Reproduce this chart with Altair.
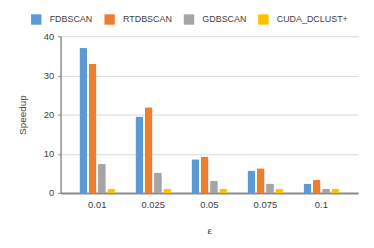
import altair as alt
import pandas as pd

eps = ["0.01", "0.025", "0.05", "0.075", "0.1"]
series = ["FDBSCAN", "RTDBSCAN", "GDBSCAN", "CUDA_DCLUST+"]
fdbscan = [37.0, 19.5, 8.6, 5.7, 2.4]
rtdbscan = [33.0, 21.9, 9.3, 6.3, 3.3]
gdbscan = [7.4, 5.2, 3.1, 2.4, 1.1]
cuda = [1.0, 1.0, 1.0, 1.0, 1.0]
colors = ["#5B9BD5", "#ED7D31", "#A5A5A5", "#FFC000"]

rows = []
for name, vals in zip(series, [fdbscan, rtdbscan, gdbscan, cuda]):
    for e, v in zip(eps, vals):
        rows.append({"eps": e, "series": name, "speedup": v})
df = pd.DataFrame(rows)

font = "Liberation Sans"
gray = "#404040"

chart = alt.Chart(df).mark_bar(cornerRadiusTopLeft=1.5, cornerRadiusTopRight=1.5).encode(
    x=alt.X("eps:N", sort=eps, title="ε",
            scale=alt.Scale(paddingInner=0, paddingOuter=0.155),
            axis=alt.Axis(labelAngle=0, ticks=False, domainColor="#8c8c8c", domainWidth=2,
                          labelFontSize=9.5, labelColor=gray, labelPadding=7,
                          titleFontSize=10, titleFontWeight="normal", titleColor=gray,
                          titlePadding=16, labelFont=font, titleFont=font)),
    xOffset=alt.XOffset("series:N", sort=series,
                        scale=alt.Scale(range=[10.25, 46.25], paddingInner=0.16, paddingOuter=0)),
    y=alt.Y("speedup:Q", title="Speedup",
            scale=alt.Scale(domain=[0, 40], nice=False),
            axis=alt.Axis(values=[0, 10, 20, 30, 40], tickSize=3, tickColor="#8c8c8c",
                          domainColor="#8c8c8c", domainWidth=1.5, gridColor="#d9d9d9",
                          labelFontSize=9.5, labelColor=gray, labelPadding=4,
                          titleFontSize=10, titleFontWeight="normal", titleColor=gray,
                          titlePadding=16, labelFont=font, titleFont=font)),
    color=alt.Color("series:N", sort=series,
                    scale=alt.Scale(domain=series, range=colors),
                    legend=alt.Legend(title=None, orient="none", direction="horizontal",
                                      legendX=-30, legendY=-22.5, symbolType="square",
                                      symbolSize=110, symbolStrokeWidth=0, labelFontSize=9,
                                      labelColor=gray, labelFont=font, labelOffset=8,
                                      labelLimit=200, columnPadding=11, padding=0)),
).properties(
    width=300, height=158,
    autosize=alt.AutoSizeParams(type="none"),
    padding={"left": 53, "top": 27.5, "right": 8, "bottom": 50},
).configure_view(stroke=None)

chart.save("out.html", embed_options={"renderer": "svg", "actions": False})
